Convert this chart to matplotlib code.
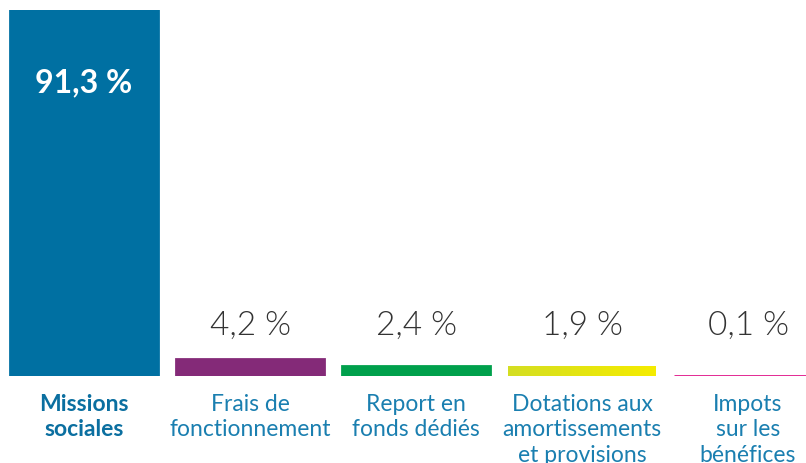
import numpy as np
import matplotlib.pyplot as plt
import matplotlib.colors as mcolors

# données
categories = ['Missions\nsociales', 'Frais de\nfonctionnement', 'Report en\nfonds dédiés',
              'Dotations aux\namortissements\net provisions', 'Impots\nsur les\nbénéfices']
valeurs = [91.3, 4.2, 2.4, 1.9, 0.1]
etiquettes = ['91,3 %', '4,2 %', '2,4 %', '1,9 %', '0,1 %']
couleurs = ['#0070a2', '#842a78', '#00a04c', '#e2e21a', '#e0168a']

plt.rcParams['font.family'] = ['Lato', 'DejaVu Sans']

fig = plt.figure(figsize=(8.06, 4.63), dpi=100)
ax = fig.add_axes([0, 87 / 463, 1, 366 / 463])

x = np.arange(len(valeurs))
largeur = 0.89
bars = ax.bar(x, valeurs, width=largeur, color=couleurs, edgecolor=couleurs, linewidth=2)

ax.set_xlim(-84 / 166, 722 / 166)
ax.set_ylim(0, valeurs[0])
ax.axis('off')

# dégradé pour la barre des dotations
b = bars[3]
grad = mcolors.LinearSegmentedColormap.from_list('g', ['#d4de22', '#f5ec00'])
ax.imshow(np.linspace(0, 1, 100).reshape(1, -1), cmap=grad, aspect='auto',
          extent=[b.get_x(), b.get_x() + b.get_width(), -0.4, b.get_height() + 0.4], zorder=3)
b.set_visible(False)

# valeurs
ax.text(x[0], 73.1, etiquettes[0], ha='center', va='center', color='white',
        fontsize=23, fontweight='bold')
for i in range(1, len(valeurs)):
    ax.text(x[i], 12.6, etiquettes[i], ha='center', va='center', color='#333333',
            fontsize=24, fontweight=300)

# catégories
for i, cat in enumerate(categories):
    ax.annotate(cat, (x[i], 0), xytext=(0, -18), textcoords='offset pixels',
                ha='center', va='top', fontsize=16.5, linespacing=1.25,
                color='#0b6fa0' if i == 0 else '#1a7fb0',
                fontweight='bold' if i == 0 else 'normal', annotation_clip=False)

fig.savefig('out.png', dpi=100)
